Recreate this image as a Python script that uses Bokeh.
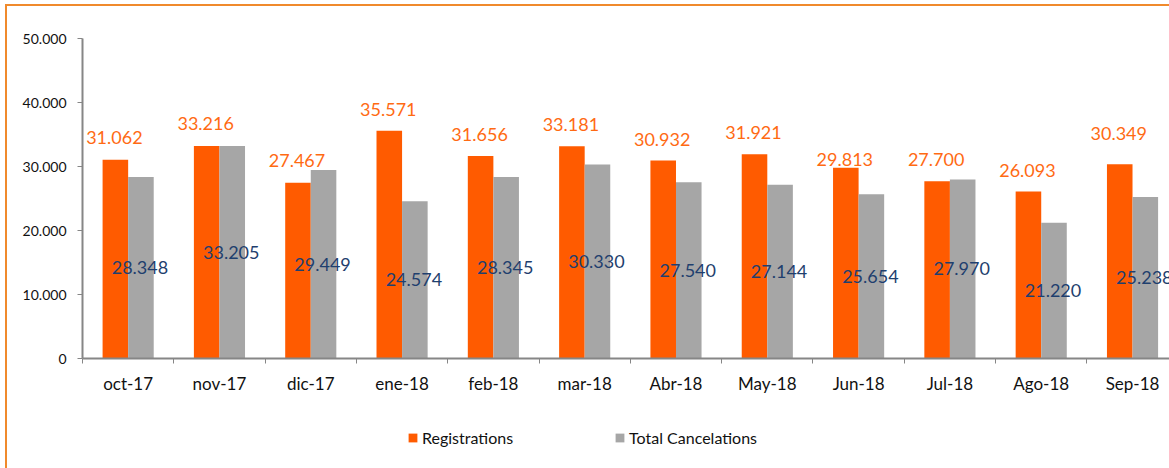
from bokeh.plotting import figure
from bokeh.layouts import column
from bokeh.models import (ColumnDataSource, Range1d, FixedTicker, Legend, LegendItem)
from bokeh.transform import dodge
from bokeh.core.properties import value
from bokeh.embed import file_html
from bokeh.resources import INLINE

# ---- data ----
months = ["oct-17", "nov-17", "dic-17", "ene-18", "feb-18", "mar-18",
          "Abr-18", "May-18", "Jun-18", "Jul-18", "Ago-18", "Sep-18"]
registrations = [31062, 33216, 27467, 35571, 31656, 33181,
                 30932, 31921, 29813, 27700, 26093, 30349]
cancelations = [28348, 33205, 29449, 24574, 28345, 30330,
                27540, 27144, 25654, 27970, 21220, 25238]
series_names = ["Registrations", "Total Cancelations"]
y_ticks = [0, 10000, 20000, 30000, 40000, 50000]
y_tick_labels = ["0", "10.000", "20.000", "30.000", "40.000", "50.000"]
# label nudges (pixels above bar top) for the Registrations labels
reg_label_nudge = [-22, -22, -22, -21.5, -21.5, -21.5, -21, -21.5, -8, -21.5, -21, -31]

def fmt(v):
    return f"{v:,}".replace(",", ".")

n = len(months)
src = ColumnDataSource(dict(
    xc=[i + 0.5 for i in range(n)],
    reg=registrations,
    can=cancelations,
    can_mid=[v / 2 for v in cancelations],
    reg_txt=[fmt(v) for v in registrations],
    can_txt=[fmt(v) for v in cancelations],
    reg_dy=reg_label_nudge,
))

FONT = "Lato"
ORANGE = "#FF5B00"
GRAY = "#A6A6A6"
BORDER = "#F08A2C"

p = figure(width=1162, height=404, output_backend="svg", toolbar_location=None,
           x_range=Range1d(0, 11.905), y_range=Range1d(0, 50000),
           min_border_left=75, min_border_right=0, min_border_top=32,
           min_border_bottom=52)
p.xgrid.visible = False
p.ygrid.visible = False
p.outline_line_color = None
p.background_fill_color = "white"
p.border_fill_color = "white"

r1 = p.vbar(x=dodge("xc", -0.14, range=p.x_range), top="reg", width=0.28, source=src,
            fill_color=ORANGE, line_color=None)
r2 = p.vbar(x=dodge("xc", 0.14, range=p.x_range), top="can", width=0.28, source=src,
            fill_color=GRAY, line_color=None)

p.text(x=dodge("xc", -0.14, range=p.x_range), y="reg", text="reg_txt", source=src,
       y_offset="reg_dy", x_offset=-1,
       text_align="center", text_baseline="middle", text_font=value(FONT),
       text_font_size="18px", text_color="#FF6A13")
p.text(x=dodge("xc", 0.14, range=p.x_range), y="can_mid", text="can_txt", source=src,
       x_offset=-1,
       text_align="center", text_baseline="middle", text_font=value(FONT),
       text_font_size="18px", text_color="#1F3F6E")

# x axis: labels at category centres, small tick marks between categories
xa = p.xaxis[0]
xa.ticker = FixedTicker(ticks=[i + 0.5 for i in range(n)], minor_ticks=list(range(n + 1)))
xa.major_label_overrides = {i + 0.5: m for i, m in enumerate(months)}
xa.major_tick_out = 0
xa.major_tick_in = 0
xa.minor_tick_out = 5
xa.minor_tick_in = 0
xa.minor_tick_line_color = "#868686"
xa.axis_line_color = "#868686"
xa.axis_line_width = 2
xa.major_label_standoff = 9
xa.major_label_text_font = FONT
xa.major_label_text_font_size = "17px"
xa.major_label_text_color = "#111111"

ya = p.yaxis[0]
ya.ticker = FixedTicker(ticks=y_ticks, minor_ticks=[])
ya.major_label_overrides = {t: l for t, l in zip(y_ticks, y_tick_labels)}
ya.major_tick_out = 5
ya.major_tick_in = 0
ya.major_tick_line_color = "#868686"
ya.axis_line_color = "#868686"
ya.axis_line_width = 2
ya.major_label_standoff = 11
ya.major_label_text_font = FONT
ya.major_label_text_font_size = "14px"
ya.major_label_text_color = "#111111"

# ---- legend strip (its frame is aligned with the chart frame by the column) ----
q = figure(width=1162, height=58, output_backend="svg", toolbar_location=None,
           x_range=Range1d(0, 1), y_range=Range1d(0, 1),
           x_axis_type=None, y_axis_type=None,
           min_border_left=0, min_border_right=0, min_border_top=0, min_border_bottom=0)
q.xgrid.visible = False
q.ygrid.visible = False
q.outline_line_color = None
q.border_fill_color = "white"
# zero-height proxy bars, only used to give the legend its swatches
lr1 = q.vbar(x=[0.5], top=[0], bottom=[0], width=0.0, fill_color=ORANGE, line_color=None)
lr2 = q.vbar(x=[0.5], top=[0], bottom=[0], width=0.0, fill_color=GRAY, line_color=None)
legend = Legend(items=[LegendItem(label=series_names[0], renderers=[lr1]),
                       LegendItem(label=series_names[1], renderers=[lr2])],
                orientation="horizontal", location=(325, 21),
                glyph_width=11, glyph_height=11, label_height=11, label_standoff=4,
                spacing=101, padding=0, margin=0,
                border_line_color=None, background_fill_alpha=0,
                label_text_font=FONT, label_text_font_size="16px",
                label_text_color="#111111")
q.add_layout(legend, "center")

lay = column(p, q, spacing=0)
lay.margin = (4, 0, 0, 5)
lay.styles = {"border-top": f"2px solid {BORDER}", "border-left": f"2px solid {BORDER}"}

open("out.html", "w").write(file_html(lay, INLINE))
